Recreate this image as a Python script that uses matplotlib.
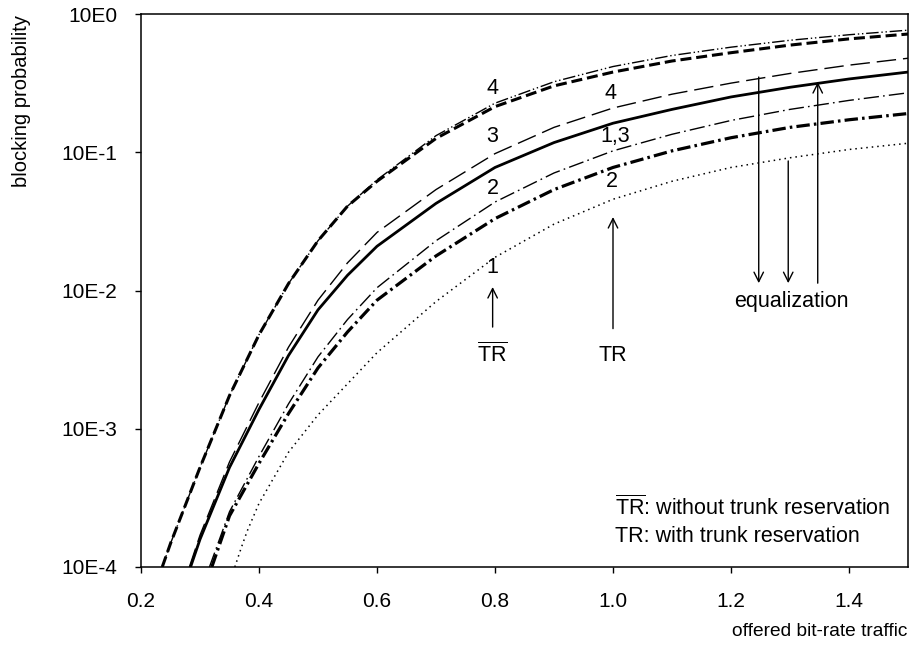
import numpy as np
import matplotlib
matplotlib.use("Agg")
import matplotlib.pyplot as plt
from matplotlib.ticker import FixedLocator, FixedFormatter, NullLocator

plt.rcParams['font.family'] = ['Liberation Sans', 'DejaVu Sans']
plt.rcParams['mathtext.fontset'] = 'custom'
plt.rcParams['mathtext.rm'] = 'Liberation Sans'
plt.rcParams['mathtext.it'] = 'Liberation Sans:italic'
plt.rcParams['mathtext.bf'] = 'Liberation Sans:bold'

# ---------------- data (log10 of blocking probability) ----------------
x_4 = [0.236, 0.25, 0.3, 0.35, 0.4, 0.45, 0.5, 0.55, 0.6, 0.7, 0.8, 0.9, 1.0, 1.1, 1.2, 1.3, 1.4, 1.5]
log_4_noTR = [-4.0, -3.83, -3.28, -2.76, -2.32, -1.95, -1.64, -1.39, -1.20, -0.88, -0.645, -0.49, -0.38, -0.30, -0.24, -0.19, -0.15, -0.117]
log_4_TR = [-4.0, -3.83, -3.28, -2.76, -2.32, -1.95, -1.64, -1.39, -1.21, -0.90, -0.67, -0.52, -0.42, -0.34, -0.28, -0.225, -0.18, -0.145]

x_3_noTR = [0.282, 0.3, 0.35, 0.4, 0.45, 0.5, 0.55, 0.6, 0.7, 0.8, 0.9, 1.0, 1.1, 1.2, 1.3, 1.4, 1.5]
log_3_noTR = [-4.0, -3.77, -3.24, -2.81, -2.41, -2.07, -1.80, -1.58, -1.27, -1.01, -0.82, -0.68, -0.58, -0.50, -0.43, -0.37, -0.32]

x_13_TR = [0.284, 0.3, 0.35, 0.4, 0.45, 0.5, 0.55, 0.6, 0.7, 0.8, 0.9, 1.0, 1.1, 1.2, 1.3, 1.4, 1.5]
log_13_TR = [-4.0, -3.80, -3.28, -2.86, -2.47, -2.14, -1.89, -1.68, -1.37, -1.11, -0.93, -0.79, -0.69, -0.60, -0.53, -0.47, -0.42]

x_2_noTR = [0.316, 0.35, 0.4, 0.45, 0.5, 0.55, 0.6, 0.7, 0.8, 0.9, 1.0, 1.1, 1.2, 1.3, 1.4, 1.5]
log_2_noTR = [-4.0, -3.60, -3.20, -2.82, -2.48, -2.21, -1.98, -1.64, -1.36, -1.15, -0.99, -0.87, -0.77, -0.69, -0.625, -0.57]

x_2_TR = [0.320, 0.35, 0.4, 0.45, 0.5, 0.55, 0.6, 0.7, 0.8, 0.9, 1.0, 1.1, 1.2, 1.3, 1.4, 1.5]
log_2_TR = [-4.0, -3.63, -3.25, -2.89, -2.56, -2.30, -2.07, -1.75, -1.48, -1.27, -1.11, -0.99, -0.895, -0.82, -0.765, -0.72]

x_1_noTR = [0.359, 0.37, 0.38, 0.4, 0.45, 0.5, 0.6, 0.7, 0.8, 0.9, 1.0, 1.1, 1.2, 1.3, 1.4, 1.5]
log_1_noTR = [-4.0, -3.86, -3.74, -3.54, -3.17, -2.90, -2.45, -2.08, -1.76, -1.52, -1.34, -1.21, -1.11, -1.04, -0.98, -0.935]

x_ticks = [0.2, 0.4, 0.6, 0.8, 1.0, 1.2, 1.4]
x_tick_labels = ['0.2', '0.4', '0.6', '0.8', '1.0', '1.2', '1.4']
y_ticks = [1e-4, 1e-3, 1e-2, 1e-1, 1e0]
y_tick_labels = ['10E-4', '10E-3', '10E-2', '10E-1', '10E0']

# ---------------- figure ----------------
fig = plt.figure(figsize=(9.11, 6.58), dpi=100)
ax = fig.add_axes([141/911, 1 - 567/658, (908 - 141)/911, (567 - 14)/658])

def p(v):
    return np.power(10.0, np.asarray(v))

k = 'black'
ax.plot(x_4, p(log_4_noTR), color=k, lw=1.0, linestyle=(0, (9, 2, 1, 2, 1, 2)))
ax.plot(x_4, p(log_4_TR), color=k, lw=2.2, linestyle=(0, (3.6, 1.6)))
ax.plot(x_3_noTR, p(log_3_noTR), color=k, lw=1.0, linestyle=(0, (14, 5)))
ax.plot(x_13_TR, p(log_13_TR), color=k, lw=2.0, linestyle='-')
ax.plot(x_2_noTR, p(log_2_noTR), color=k, lw=1.0, linestyle=(0, (11, 3, 1.2, 3)))
ax.plot(x_2_TR, p(log_2_TR), color=k, lw=2.3, linestyle=(0, (4.2, 1.3, 0.8, 1.3)))
ax.plot(x_1_noTR, p(log_1_noTR), color=k, lw=1.1, linestyle=(0, (1, 2.6)))

ax.set_xlim(0.2, 1.5)
ax.set_yscale('log')
ax.set_ylim(1e-4, 1)

ax.xaxis.set_major_locator(FixedLocator(x_ticks))
ax.xaxis.set_major_formatter(FixedFormatter(x_tick_labels))
ax.yaxis.set_major_locator(FixedLocator(y_ticks))
ax.yaxis.set_major_formatter(FixedFormatter(y_tick_labels))
ax.yaxis.set_minor_locator(NullLocator())
ax.xaxis.set_minor_locator(NullLocator())
ax.tick_params(axis='x', direction='out', length=4, width=1, pad=14, labelsize=15)
ax.tick_params(axis='y', direction='out', length=4, width=1, pad=13, labelsize=15)
for s in ax.spines.values():
    s.set_linewidth(1.1)

fs = 15.5
# curve labels
ax.text(0.796, 0.29, '4', ha='center', va='center', fontsize=fs)
ax.text(0.995, 0.268, '4', ha='center', va='center', fontsize=fs)
ax.text(0.796, 0.129, '3', ha='center', va='center', fontsize=fs)
ax.text(1.003, 0.131, '1,3', ha='center', va='center', fontsize=fs)
ax.text(0.796, 0.055, '2', ha='center', va='center', fontsize=fs)
ax.text(0.998, 0.061, '2', ha='center', va='center', fontsize=fs)
ax.text(0.796, 0.01455, '1', ha='center', va='center', fontsize=fs)

arr = dict(arrowstyle='->', lw=1.0, color=k, shrinkA=0, shrinkB=0, mutation_scale=17)
# TR-bar arrow
ax.annotate('', xy=(0.796, 0.0106), xytext=(0.796, 0.00544), arrowprops=arr)
ax.text(0.796, 0.0034, r'$\overline{\mathrm{TR}}$', ha='center', va='center', fontsize=fs)
# TR arrow
ax.annotate('', xy=(1.0, 0.034), xytext=(1.0, 0.0053), arrowprops=arr)
ax.text(1.0, 0.0034, 'TR', ha='center', va='center', fontsize=fs)
# equalization arrows
ax.annotate('', xy=(1.247, 0.0113), xytext=(1.247, 0.35), arrowprops=arr)
ax.annotate('', xy=(1.297, 0.0113), xytext=(1.297, 0.0865), arrowprops=arr)
ax.annotate('', xy=(1.347, 0.322), xytext=(1.347, 0.0113), arrowprops=arr)
ax.text(1.302, 0.0083, 'equalization', ha='center', va='center', fontsize=fs)

# legend text
ax.text(1.003, 10**(-(508 - 14)/138.25), r'$\overline{\mathrm{TR}}$: without trunk reservation',
        ha='left', va='center', fontsize=fs)
ax.text(1.003, 10**(-(537 - 14)/138.25), 'TR: with trunk reservation',
        ha='left', va='center', fontsize=fs)

fig.text(22/911, 1 - 101/658, 'blocking probability', rotation=90, ha='center', va='center', fontsize=14.5)
fig.text(907/911, 1 - 632/658, 'offered bit-rate traffic', ha='right', va='center', fontsize=13.8)

fig.savefig('out.png', dpi=100)
